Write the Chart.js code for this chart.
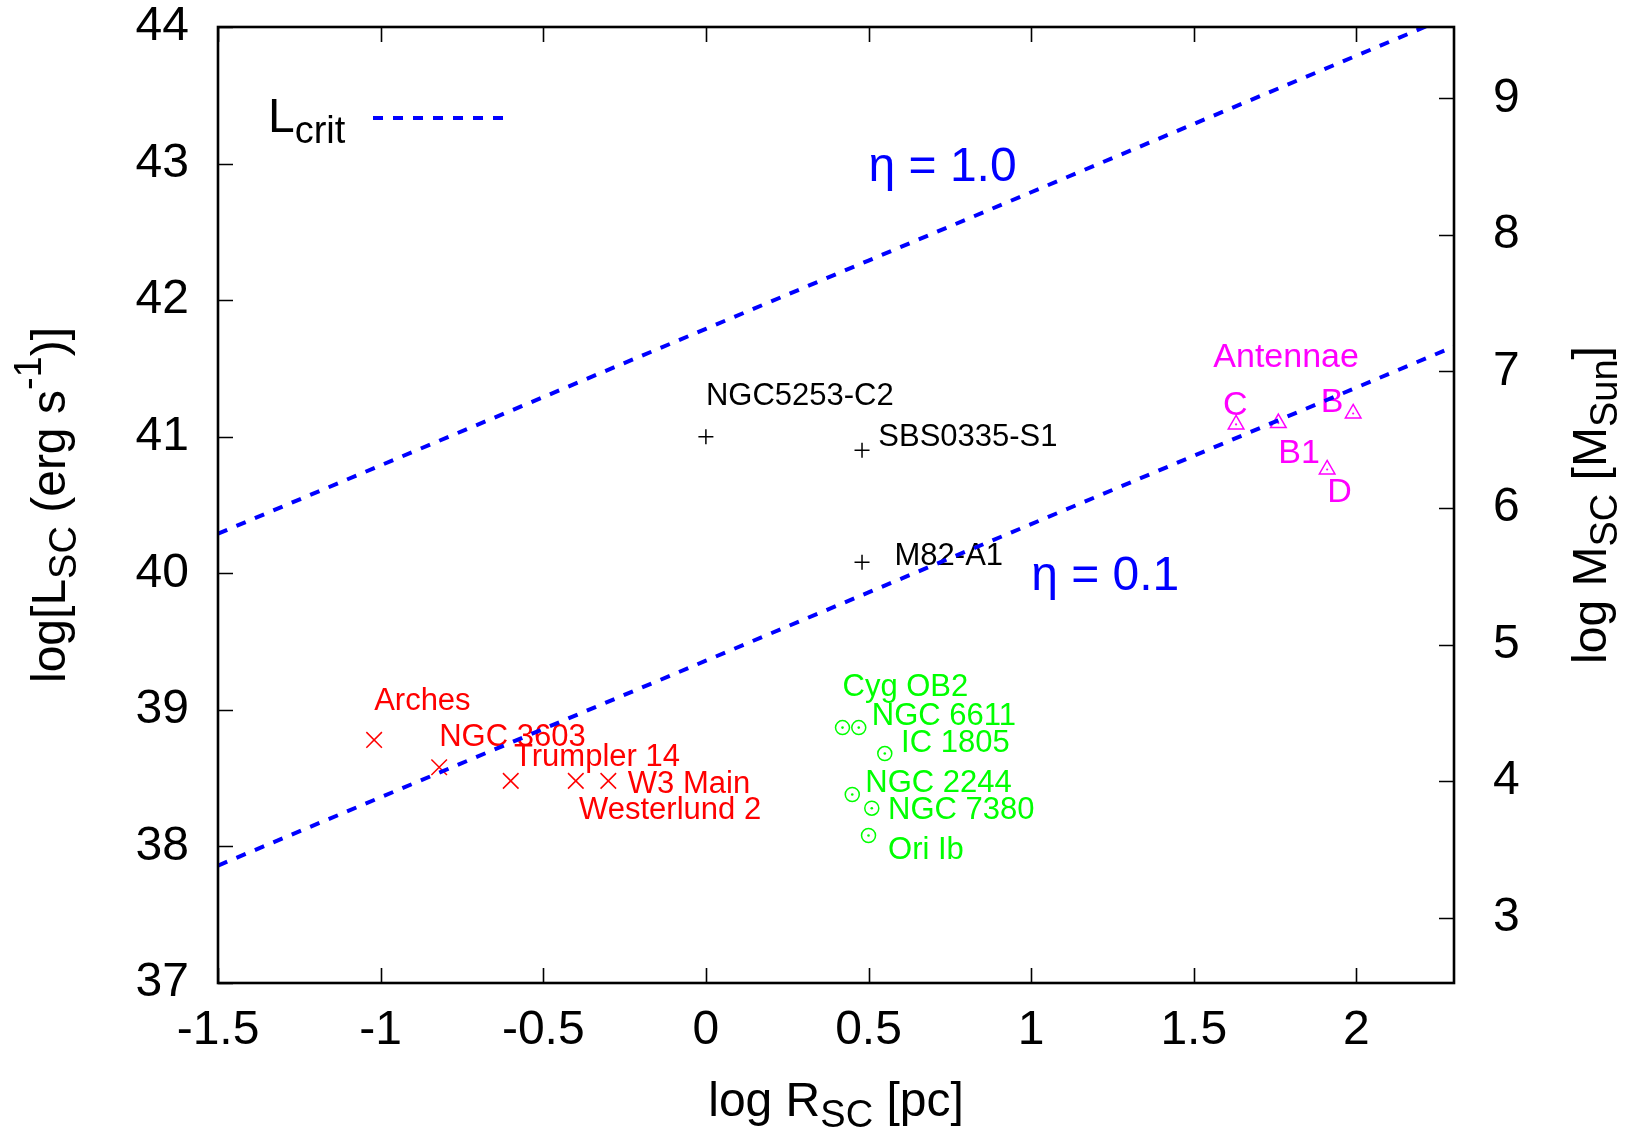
<!DOCTYPE html>
<html>
<head>
<meta charset="utf-8">
<script src="https://cdn.jsdelivr.net/npm/chart.js@4/dist/chart.umd.min.js"></script>
<style>
  html, body { margin: 0; padding: 0; background: #fff; }
  canvas { display: block; }
</style>
</head>
<body>
<canvas id="chart" width="1633" height="1132"></canvas>
<script>
// ---- axis ticks ----
const xTicks = [-1.5, -1, -0.5, 0, 0.5, 1, 1.5, 2];
const lumTicks = [37, 38, 39, 40, 41, 42, 43, 44];
const massTicks = [3, 4, 5, 6, 7, 8, 9];

// ---- critical luminance lines (log R, log L) ----
const lineR = [-1.5, -1, -0.5, 0, 0.5, 1, 1.5, 2, 2.3];
const eta10L = [40.29, 40.79, 41.29, 41.79, 42.29, 42.79, 43.29, 43.79, 44.09];
const eta01L = [37.86, 38.36, 38.86, 39.36, 39.86, 40.36, 40.86, 41.36, 41.66];

// ---- Galactic young massive clusters ----
const galacticR = [-1.02, -0.82, -0.60, -0.40, -0.30];
const galacticL = [38.78, 38.58, 38.48, 38.48, 38.48];
const galacticLabels = ['Arches', 'NGC 3603', 'Trumpler 14', 'W3 Main', 'Westerlund 2'];
const galacticLabelR = [-1.02, -0.82, -0.59, -0.24, -0.39];
const galacticLabelL = [39.08, 38.82, 38.67, 38.47, 38.28];

// ---- OB associations ----
const obR = [0.42, 0.47, 0.55, 0.45, 0.51, 0.50];
const obL = [38.87, 38.87, 38.68, 38.38, 38.28, 38.08];
const obLabels = ['Cyg OB2', 'NGC 6611', 'IC 1805', 'NGC 2244', 'NGC 7380', 'Ori Ib'];
const obLabelR = [0.42, 0.51, 0.60, 0.49, 0.56, 0.56];
const obLabelL = [39.18, 38.97, 38.77, 38.48, 38.28, 37.99];

// ---- Antennae clusters ----
const antR = [1.63, 1.76, 1.99, 1.91];
const antL = [41.09, 41.10, 41.17, 40.76];
const antLabels = ['Antennae', 'C', 'B', 'B1', 'D'];
const antLabelR = [1.56, 1.59, 1.89, 1.76, 1.91];
const antLabelL = [41.60, 41.25, 41.27, 40.90, 40.61];

// ---- extragalactic super star clusters ----
const sscR = [0.00, 0.48, 0.48];
const sscL = [41.00, 40.90, 40.08];
const sscLabels = ['NGC5253-C2', 'SBS0335-S1', 'M82-A1'];
const sscLabelR = [0.00, 0.53, 0.58];
const sscLabelL = [41.31, 41.01, 40.14];

// ---- efficiency labels ----
const etaLabels = ['\u03b7 = 1.0', '\u03b7 = 0.1'];
const etaLabelR = [0.50, 1.00];
const etaLabelL = [43.00, 40.00];

// offset between luminosity and mass axes (log L - log M)
const lumToMass = 34.478;

const FONT = '"Liberation Sans", Arial, Helvetica, sans-serif';
const RED = '#ff0000', GREEN = '#00ff00', MAGENTA = '#ff00ff', BLUE = '#0000ff', BLACK = '#000000';
const DASH = [10, 10];

const pts = (xs, ys) => xs.map((x, i) => ({ x: x, y: ys[i] }));

function drawRuns(ctx, runs, x, y, angle, align) {
  ctx.save();
  ctx.translate(x, y);
  ctx.rotate(angle);
  let total = 0;
  runs.forEach(r => {
    ctx.font = r.size + 'px ' + FONT;
    r.w = ctx.measureText(r.t).width;
    total += r.w;
  });
  let cx = align === 'center' ? -total / 2 : 0;
  ctx.textAlign = 'left';
  ctx.textBaseline = 'alphabetic';
  runs.forEach(r => {
    ctx.font = r.size + 'px ' + FONT;
    ctx.fillText(r.t, cx, r.dy || 0);
    cx += r.w;
  });
  ctx.restore();
}

// text labels placed in data coordinates, drawn beneath the curves
const annotationPlugin = {
  id: 'annotations',
  beforeDatasetsDraw(chart) {
    const ctx = chart.ctx;
    const xs = chart.scales.x, ys = chart.scales.y;
    const groups = [
      { t: galacticLabels, r: galacticLabelR, l: galacticLabelL, c: RED, s: 31 },
      { t: obLabels, r: obLabelR, l: obLabelL, c: GREEN, s: 31 },
      { t: antLabels, r: antLabelR, l: antLabelL, c: MAGENTA, s: 34 },
      { t: sscLabels, r: sscLabelR, l: sscLabelL, c: BLACK, s: 31 },
      { t: etaLabels, r: etaLabelR, l: etaLabelL, c: BLUE, s: 48 }
    ];
    ctx.save();
    ctx.textAlign = 'left';
    ctx.textBaseline = 'alphabetic';
    groups.forEach(g => {
      ctx.fillStyle = g.c;
      ctx.font = g.s + 'px ' + FONT;
      g.t.forEach((txt, i) => {
        const px = xs.getPixelForValue(g.r[i]);
        const py = ys.getPixelForValue(g.l[i]) + 0.358 * g.s;
        ctx.fillText(txt, px, py);
      });
    });
    ctx.restore();
  },
  afterDraw(chart) {
    const ctx = chart.ctx;
    const a = chart.chartArea;
    const xs = chart.scales.x, ys = chart.scales.y, ms = chart.scales.y2;
    const TL = 15;
    ctx.save();
    ctx.strokeStyle = BLACK;
    ctx.lineWidth = 1.6;
    ctx.beginPath();
    xTicks.forEach(v => {
      const px = Math.round(xs.getPixelForValue(v)) + 0.5;
      ctx.moveTo(px, a.bottom); ctx.lineTo(px, a.bottom - TL);
      ctx.moveTo(px, a.top); ctx.lineTo(px, a.top + TL);
    });
    lumTicks.forEach(v => {
      const py = Math.round(ys.getPixelForValue(v)) + 0.5;
      ctx.moveTo(a.left, py); ctx.lineTo(a.left + TL, py);
    });
    massTicks.forEach(v => {
      const py = Math.round(ms.getPixelForValue(v)) + 0.5;
      ctx.moveTo(a.right, py); ctx.lineTo(a.right - TL, py);
    });
    ctx.stroke();
    // frame
    ctx.lineWidth = 2.6;
    ctx.strokeRect(a.left, a.top, a.right - a.left, a.bottom - a.top);

    // axis titles
    ctx.fillStyle = BLACK;
    drawRuns(ctx, [
      { t: 'log R', size: 48 },
      { t: 'SC', size: 38, dy: 11 },
      { t: ' [pc]', size: 48 }
    ], (a.left + a.right) / 2, 1116, 0, 'center');
    drawRuns(ctx, [
      { t: 'log[L', size: 48 },
      { t: 'SC', size: 38, dy: 11 },
      { t: ' (erg s', size: 48 },
      { t: '-1', size: 38, dy: -24 },
      { t: ')]', size: 48 }
    ], 65, (a.top + a.bottom) / 2, -Math.PI / 2, 'center');
    drawRuns(ctx, [
      { t: 'log M', size: 48 },
      { t: 'SC', size: 38, dy: 11 },
      { t: ' [M', size: 48 },
      { t: 'Sun', size: 38, dy: 11 },
      { t: ']', size: 48 }
    ], 1606, (a.top + a.bottom) / 2, -Math.PI / 2, 'center');

    // key
    drawRuns(ctx, [
      { t: 'L', size: 48 },
      { t: 'crit', size: 38, dy: 11 }
    ], 268, 132, 0, 'left');
    ctx.strokeStyle = BLUE;
    ctx.lineWidth = 4;
    ctx.setLineDash(DASH);
    ctx.beginPath();
    ctx.moveTo(373, 118);
    ctx.lineTo(505, 118);
    ctx.stroke();
    ctx.restore();
  }
};

Chart.defaults.font.family = FONT;
Chart.defaults.color = BLACK;

const tickFont = { size: 48, lineHeight: 1 };

// fixed axis band sizes with no extra label overhang
const fixBand = (prop, size) => s => {
  s[prop] = size;
  s.paddingTop = 0; s.paddingBottom = 0; s.paddingLeft = 0; s.paddingRight = 0;
};

new Chart(document.getElementById('chart'), {
  type: 'scatter',
  data: {
    datasets: [
      {
        label: 'eta = 1.0', data: pts(lineR, eta10L), showLine: true,
        borderColor: BLUE, borderWidth: 4, borderDash: DASH, pointRadius: 0, fill: false, clip: 0
      },
      {
        label: 'eta = 0.1', data: pts(lineR, eta01L), showLine: true,
        borderColor: BLUE, borderWidth: 4, borderDash: DASH, pointRadius: 0, fill: false, clip: 0
      },
      {
        label: 'Galactic', data: pts(galacticR, galacticL), pointStyle: 'crossRot',
        pointRadius: 11, borderColor: RED, borderWidth: 1.5, backgroundColor: RED
      },
      {
        label: 'OB centres', data: pts(obR, obL), pointStyle: 'circle',
        pointRadius: 1.3, borderWidth: 0, backgroundColor: GREEN
      },
      {
        label: 'OB associations', data: pts(obR, obL), pointStyle: 'circle',
        pointRadius: 7, borderColor: GREEN, borderWidth: 1.5, backgroundColor: 'rgba(0,0,0,0)'
      },
      {
        label: 'Antennae centres', data: pts(antR, antL), pointStyle: 'circle',
        pointRadius: 1.1, borderWidth: 0, backgroundColor: MAGENTA
      },
      {
        label: 'Antennae', data: pts(antR, antL), pointStyle: 'triangle',
        pointRadius: 9, borderColor: MAGENTA, borderWidth: 1.5, backgroundColor: 'rgba(0,0,0,0)'
      },
      {
        label: 'SSC', data: pts(sscR, sscL), pointStyle: 'cross',
        pointRadius: 7.5, borderColor: BLACK, borderWidth: 1.5, backgroundColor: BLACK
      }
    ]
  },
  options: {
    responsive: false,
    animation: false,
    events: [],
    layout: { padding: { top: 27, left: 0, right: 0, bottom: 0 } },
    plugins: { legend: { display: false }, tooltip: { enabled: false } },
    scales: {
      x: {
        type: 'linear', position: 'bottom', min: -1.5, max: 2.3,
        afterBuildTicks: s => { s.ticks = xTicks.map(v => ({ value: v })); },
        afterFit: fixBand('height', 149),
        grid: { display: false, drawTicks: false },
        border: { display: false },
        ticks: { font: tickFont, color: BLACK, padding: 24, maxRotation: 0, autoSkip: false,
                 callback: v => String(v) }
      },
      y: {
        type: 'linear', position: 'left', min: 37, max: 44,
        afterBuildTicks: s => { s.ticks = lumTicks.map(v => ({ value: v })); },
        afterFit: fixBand('width', 218),
        grid: { display: false, drawTicks: false },
        border: { display: false },
        ticks: { font: tickFont, color: BLACK, padding: 29, autoSkip: false,
                 callback: v => String(v) }
      },
      y2: {
        type: 'linear', position: 'right', min: 37 - lumToMass, max: 44 - lumToMass,
        afterBuildTicks: s => { s.ticks = massTicks.map(v => ({ value: v })); },
        afterFit: fixBand('width', 179),
        grid: { display: false, drawTicks: false },
        border: { display: false },
        ticks: { font: tickFont, color: BLACK, padding: 39, autoSkip: false,
                 callback: v => String(v) }
      }
    }
  },
  plugins: [annotationPlugin]
});
</script>
</body>
</html>
